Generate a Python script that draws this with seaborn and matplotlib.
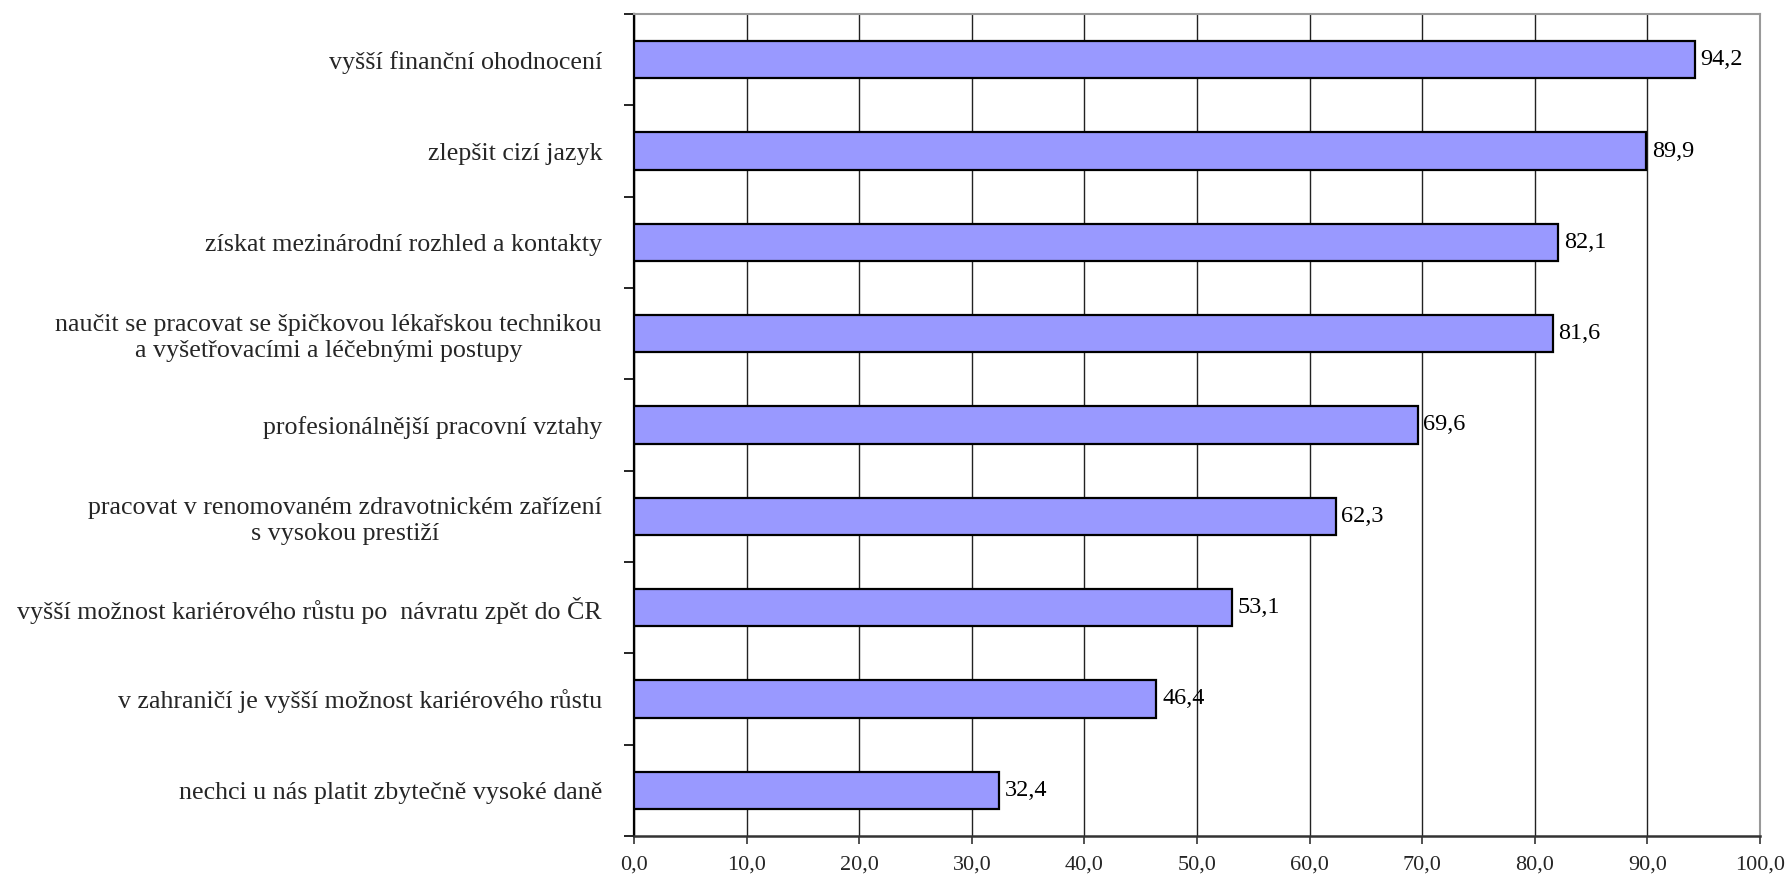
import numpy as np
import pandas as pd
import matplotlib
matplotlib.use("Agg")
import matplotlib.pyplot as plt
from matplotlib.ticker import FixedLocator, FuncFormatter
import seaborn as sns

categories = [
    "vyšší finanční ohodnocení",
    "zlepšit cizí jazyk",
    "získat mezinárodní rozhled a kontakty",
    "naučit se pracovat se špičkovou lékařskou technikou\na vyšetřovacími a léčebnými postupy",
    "profesionálnější pracovní vztahy",
    "pracovat v renomovaném zdravotnickém zařízení\ns vysokou prestiží",
    "vyšší možnost kariérového růstu po  návratu zpět do ČR",
    "v zahraničí je vyšší možnost kariérového růstu",
    "nechci u nás platit zbytečně vysoké daně",
]
values = [94.2, 89.9, 82.1, 81.6, 69.6, 62.3, 53.1, 46.4, 32.4]
x_ticks = [0, 10, 20, 30, 40, 50, 60, 70, 80, 90, 100]

df = pd.DataFrame({"reason": categories, "pct": values})

sns.set_theme(style="white")
plt.rcParams["font.family"] = ["Liberation Serif", "DejaVu Serif"]

fig = plt.figure(figsize=(17.89, 8.77), dpi=100)
ax = fig.add_axes([0.3544, 0.0468, 0.6294, 0.9372])

sns.barplot(data=df, x="pct", y="reason", orient="h", color="#9999FF",
            saturation=1, width=0.41, edgecolor="black", linewidth=1.6,
            ax=ax, zorder=3)

ax.set_xlim(0, 100)
ax.set_ylim(len(categories) - 0.5, -0.5)
ax.xaxis.set_major_locator(FixedLocator(x_ticks))
ax.xaxis.set_major_formatter(FuncFormatter(lambda v, p: f"{v:.1f}".replace(".", ",")))
ax.grid(axis="x", color="#222222", linewidth=1.0, zorder=0)
ax.set_axisbelow(True)
ax.set_xlabel("")
ax.set_ylabel("")

# category ticks sit between bars on the left axis
ax.yaxis.set_minor_locator(FixedLocator(np.arange(-0.5, len(categories), 1.0)))
ax.tick_params(axis="y", which="major", length=0, pad=23, labelsize=18.7)
ax.tick_params(axis="y", which="minor", length=7, width=1.2, color="black", left=True)
ax.tick_params(axis="x", which="major", length=6, width=1.2, color="#333333",
               bottom=True, pad=8, labelsize=16)
for t in ax.get_yticklabels():
    t.set_multialignment("center")
    t.set_linespacing(1.25)

for side in ["top", "right"]:
    ax.spines[side].set_color("#999999")
    ax.spines[side].set_linewidth(1.5)
ax.spines["left"].set_color("black")
ax.spines["left"].set_linewidth(1.6)
ax.spines["bottom"].set_color("#333333")
ax.spines["bottom"].set_linewidth(1.8)

for container in ax.containers:
    ax.bar_label(container, labels=[f"{v:.1f}".replace(".", ",") for v in values],
                 padding=4, fontsize=17.5, color="black")

fig.savefig("out.png", dpi=100, facecolor="white")
